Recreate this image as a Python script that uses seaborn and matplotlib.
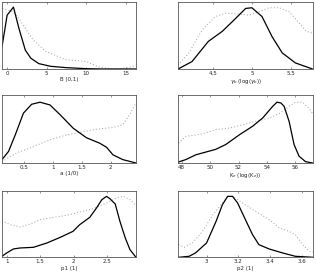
import matplotlib
matplotlib.use("Agg")
import matplotlib.pyplot as plt
import seaborn as sns
import pandas as pd

# ---- panel data (x in data units, height normalised to axis) ----
b_x_solid = [-0.65, 0.0, 0.8, 1.5, 2.3, 3.0, 4.0, 5.5, 7.5, 10, 12, 16.3]
b_y_solid = [0.33, 0.80, 0.92, 0.60, 0.28, 0.16, 0.08, 0.04, 0.02, 0.005, 0.0, 0.0]
b_x_dot = [-0.6, 0.8, 1.6, 3.3, 4.9, 7.4, 10, 11.6, 13.3, 15, 16.3]
b_y_dot = [0.90, 0.85, 0.73, 0.43, 0.26, 0.14, 0.11, 0.03, 0.0, 0.01, 0.05]

g_x_solid = [4.05, 4.23, 4.44, 4.62, 4.79, 4.92, 5.0, 5.13, 5.26, 5.39, 5.56, 5.78]
g_y_solid = [0.0, 0.11, 0.41, 0.56, 0.75, 0.90, 0.91, 0.78, 0.48, 0.24, 0.09, 0.0]
g_x_dot = [4.05, 4.19, 4.36, 4.53, 4.66, 4.79, 4.96, 5.09, 5.22, 5.35, 5.48, 5.61, 5.70, 5.79]
g_y_dot = [0.06, 0.24, 0.58, 0.78, 0.83, 0.82, 0.80, 0.85, 0.91, 0.91, 0.85, 0.68, 0.56, 0.53]

a_x_solid = [0.116, 0.23, 0.345, 0.488, 0.63, 0.776, 0.948, 1.12, 1.35, 1.58, 1.81, 1.93, 2.04, 2.21, 2.44]
a_y_solid = [0.05, 0.17, 0.41, 0.73, 0.86, 0.89, 0.85, 0.71, 0.51, 0.37, 0.29, 0.23, 0.12, 0.05, 0.0]
a_x_dot = [0.116, 0.374, 0.66, 0.95, 1.23, 1.52, 1.81, 2.04, 2.21, 2.33, 2.44]
a_y_dot = [0.02, 0.15, 0.24, 0.34, 0.41, 0.46, 0.50, 0.52, 0.56, 0.71, 0.88]

k_x_solid = [47.79, 48.3, 49.0, 49.7, 50.4, 51.1, 52.04, 53.0, 53.7, 54.4, 54.7, 54.97, 55.2, 55.55, 55.9, 56.25, 56.7, 57.2]
k_y_solid = [0.015, 0.05, 0.12, 0.16, 0.20, 0.27, 0.41, 0.54, 0.66, 0.83, 0.89, 0.88, 0.83, 0.61, 0.27, 0.10, 0.02, 0.0]
k_x_dot = [47.79, 48.3, 49.0, 49.7, 50.4, 51.35, 52.3, 53.2, 54.2, 54.9, 55.55, 56.0, 56.5, 56.95, 57.25]
k_y_dot = [0.29, 0.39, 0.41, 0.44, 0.49, 0.51, 0.56, 0.61, 0.66, 0.73, 0.83, 0.89, 0.89, 0.80, 0.71]

p1_x_solid = [0.93, 1.0, 1.1, 1.2, 1.4, 1.6, 1.8, 1.99, 2.09, 2.24, 2.34, 2.42, 2.49, 2.54, 2.62, 2.69, 2.77, 2.84, 2.93]
p1_y_solid = [0.015, 0.065, 0.125, 0.14, 0.15, 0.215, 0.30, 0.39, 0.49, 0.60, 0.74, 0.865, 0.915, 0.88, 0.80, 0.54, 0.29, 0.115, 0.0]
p1_x_dot = [0.93, 1.05, 1.2, 1.35, 1.5, 1.7, 1.9, 2.09, 2.29, 2.49, 2.64, 2.74, 2.84, 2.93]
p1_y_dot = [0.55, 0.49, 0.455, 0.50, 0.565, 0.60, 0.63, 0.68, 0.73, 0.815, 0.89, 0.915, 0.865, 0.78]

p2_x_solid = [2.823, 2.89, 2.93, 3.0, 3.06, 3.10, 3.133, 3.164, 3.196, 3.25, 3.29, 3.33, 3.395, 3.48, 3.56, 3.673]
p2_y_solid = [0.0, 0.015, 0.065, 0.215, 0.54, 0.79, 0.915, 0.915, 0.815, 0.54, 0.34, 0.19, 0.125, 0.065, 0.015, 0.0]
p2_x_dot = [2.823, 2.86, 2.91, 2.975, 3.04, 3.10, 3.133, 3.164, 3.227, 3.31, 3.395, 3.46, 3.52, 3.56, 3.606, 3.648, 3.673]
p2_y_dot = [0.19, 0.15, 0.215, 0.39, 0.64, 0.815, 0.915, 0.915, 0.815, 0.69, 0.565, 0.44, 0.39, 0.34, 0.19, 0.09, 0.08]

labels = ["B (0,1)", r"$\gamma_b$ (log($\gamma_b$))", "a (1/0)",
          r"K$_e$ (log(K$_e$))", "p1 (1)", "p2 (1)"]
xlims = [(-0.65, 16.3), (4.05, 5.79), (0.116, 2.44), (47.75, 57.25), (0.93, 2.93), (2.82, 3.673)]
xticks = [[0, 5, 10, 15], [4.5, 5, 5.5], [0.5, 1, 1.5, 2], [48, 50, 52, 54, 56],
          [1, 1.5, 2, 2.5], [3, 3.2, 3.4, 3.6]]
xticklabels = [["0", "5", "10", "15"], ["4.5", "5", "5.5"], ["0.5", "1", "1.5", "2"],
               ["48", "50", "52", "54", "56"], ["1", "1.5", "2", "2.5"], ["3", "3.2", "3.4", "3.6"]]

panels = [
    (b_x_solid, b_y_solid, b_x_dot, b_y_dot),
    (g_x_solid, g_y_solid, g_x_dot, g_y_dot),
    (a_x_solid, a_y_solid, a_x_dot, a_y_dot),
    (k_x_solid, k_y_solid, k_x_dot, k_y_dot),
    (p1_x_solid, p1_y_solid, p1_x_dot, p1_y_dot),
    (p2_x_solid, p2_y_solid, p2_x_dot, p2_y_dot),
]

sns.set_style("white")
plt.rcParams['font.family'] = ['DejaVu Sans']

fig = plt.figure(figsize=(3.16, 2.73), dpi=100)
lefts = [2 / 316, 178 / 316]
widths = [134 / 316, 135.3 / 316]
rows = [(1 - 69 / 273, 67.3 / 273), (1 - 163 / 273, 68.3 / 273), (1 - 257.3 / 273, 66.6 / 273)]

for i, (xs, ys, xd, yd) in enumerate(panels):
    r, c = divmod(i, 2)
    ax = fig.add_axes([lefts[c], rows[r][0], widths[c], rows[r][1]])
    sol = pd.DataFrame({"x": xs, "y": ys})
    dot = pd.DataFrame({"x": xd, "y": yd})
    sns.lineplot(data=dot, x="x", y="y", ax=ax, color="#a8a8a8", lw=0.75,
                 linestyle=(0, (1, 2)), sort=False)
    sns.lineplot(data=sol, x="x", y="y", ax=ax, color="black", lw=0.9, sort=False)
    ax.set_xlim(*xlims[i])
    ax.set_ylim(0, 1.0)
    ax.set_yticks([])
    ax.set_xticks(xticks[i])
    ax.set_xticklabels(xticklabels[i])
    ax.tick_params(axis="x", direction="in", length=1.5, width=0.4, labelsize=4,
                   pad=1.5, top=True, bottom=True, color="#444444")
    ax.set_xlabel(labels[i], fontsize=4, labelpad=1)
    ax.set_ylabel("")
    for s in ax.spines.values():
        s.set_linewidth(0.6)
        s.set_color("#555555")

fig.savefig("out.png", dpi=100)
